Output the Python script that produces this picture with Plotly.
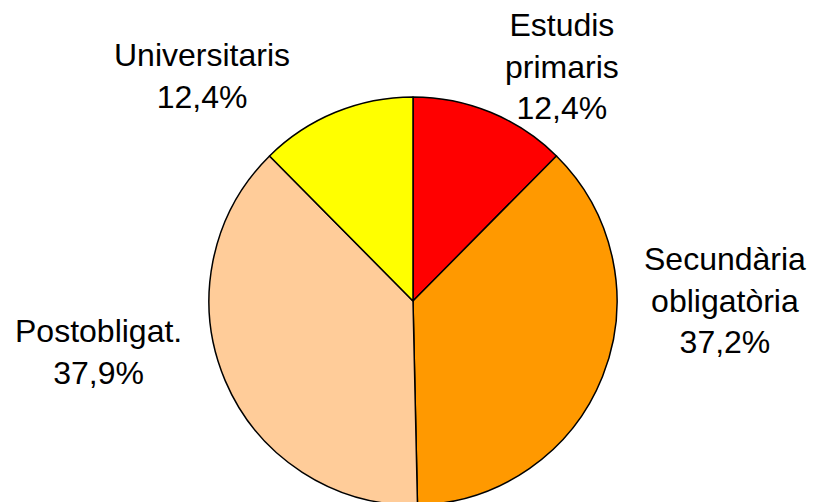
import plotly.graph_objects as go

# Dades
categories = ["Estudis primaris", "Secundària obligatòria", "Postobligat.", "Universitaris"]
display_labels = ["Estudis<br>primaris", "Secundària<br>obligatòria", "Postobligat.", "Universitaris"]
percentages = [12.4, 37.2, 37.9, 12.4]
colors = ["#FF0000", "#FF9900", "#FFCC99", "#FFFF00"]

W, H = 819, 502
OFF = 8  # marge per defecte del body de la pàgina

# Posicions de les etiquetes (pixels de la pàgina: x centre, y centre)
label_pos = [(562, 66), (725, 300), (98, 352), (202, 76)]

cx, cy, r = 413 - OFF, 301 - OFF, 204

fig = go.Figure()
fig.add_trace(go.Pie(
    labels=categories,
    values=percentages,
    marker=dict(colors=colors, line=dict(color="black", width=1.5)),
    sort=False,
    direction="clockwise",
    rotation=0,
    textinfo="none",
    hoverinfo="skip",
    showlegend=False,
    domain=dict(x=[(cx - r) / W, (cx + r) / W],
                y=[(H - cy - r) / H, (H - cy + r) / H]),
))

for lab, val, (px, py) in zip(display_labels, percentages, label_pos):
    fig.add_annotation(
        x=(px - OFF) / W, y=1 - (py - OFF) / H, xref="paper", yref="paper",
        text=lab + "<br>" + f"{val:.1f}".replace(".", ",") + "%",
        showarrow=False, xanchor="center", yanchor="middle",
        font=dict(family="Liberation Sans, Arial", size=32, color="black"),
    )

fig.update_layout(
    width=W, height=H,
    margin=dict(l=0, r=0, t=0, b=0),
    paper_bgcolor="white",
    plot_bgcolor="white",
)

fig.write_html("out.html")
